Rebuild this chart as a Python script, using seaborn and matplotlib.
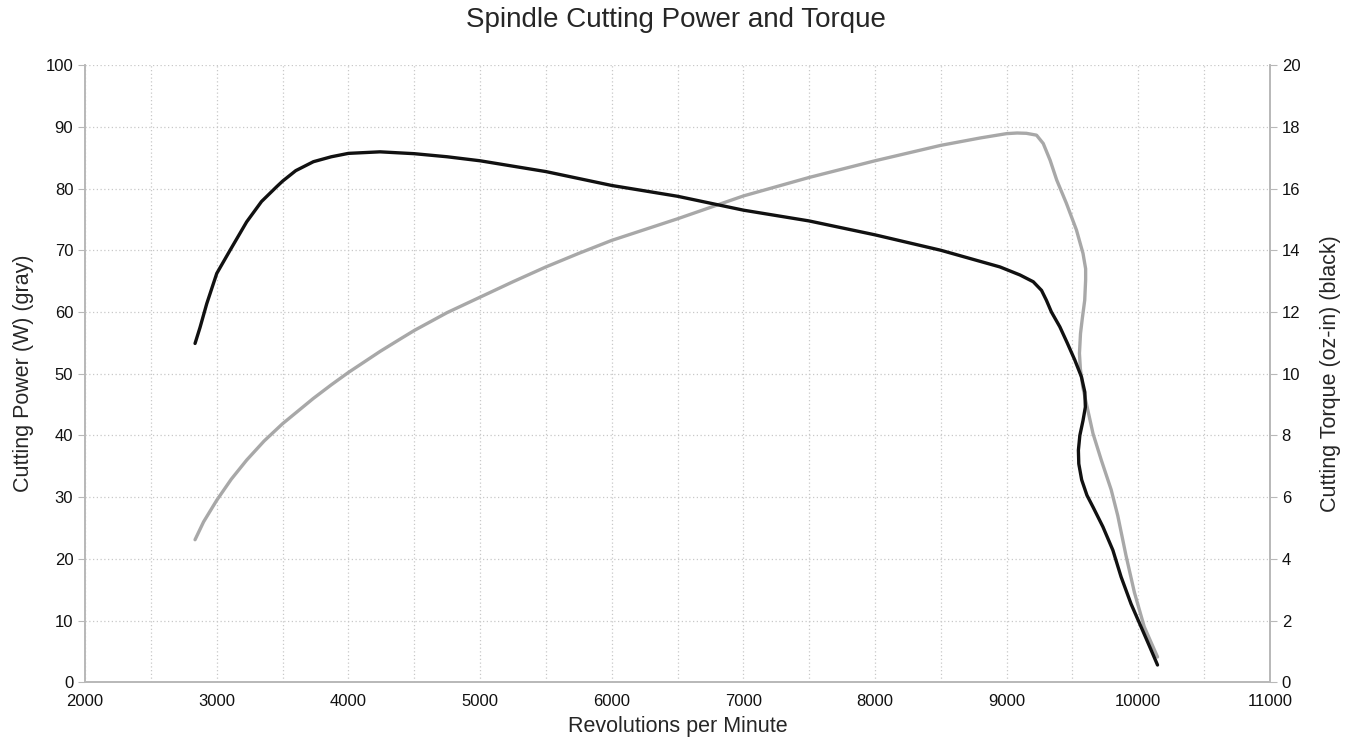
import numpy as np
import pandas as pd
import matplotlib
matplotlib.use("Agg")
import matplotlib.pyplot as plt
import seaborn as sns

# power curve (gray, left axis) - rpm / watts
power_rpm = [2835, 2900, 3000, 3110, 3227, 3360, 3500, 3620, 3734, 3870, 4000,
             4240, 4392, 4500, 4750, 5000, 5250, 5500, 5750, 6000, 6500, 7000,
             7500, 8000, 8500, 8800, 9000, 9080, 9150, 9227, 9278, 9330, 9380,
             9454, 9530, 9580, 9600, 9600, 9593, 9575, 9561, 9553, 9560, 9578,
             9600, 9656, 9719, 9794, 9844, 9907, 9970, 10045, 10146]
power_w = [23.1, 26.0, 29.5, 32.9, 36.0, 39.1, 41.9, 44.0, 46.0, 48.2, 50.2,
           53.6, 55.6, 57.0, 59.9, 62.4, 64.9, 67.3, 69.5, 71.6, 75.1, 78.8,
           81.8, 84.5, 87.0, 88.2, 88.9, 89.0, 88.95, 88.65, 87.3, 84.6, 81.4,
           77.6, 73.3, 69.5, 67.0, 65.2, 61.9, 59.0, 56.5, 53.3, 50.8, 47.9,
           45.7, 40.3, 36.0, 31.2, 27.0, 20.5, 14.6, 9.0, 4.1]

# torque curve (black, right axis) - rpm / oz-in
torque_rpm = [2835, 2873, 2924, 3000, 3101, 3227, 3340, 3455, 3500, 3600, 3734,
              3870, 4000, 4240, 4500, 4750, 5000, 5500, 6000, 6500, 7000, 7500,
              8000, 8500, 8949, 9101, 9202, 9265, 9302, 9340, 9404, 9460, 9518,
              9568, 9594, 9598, 9580, 9556, 9545, 9548, 9570, 9610, 9656, 9731,
              9807, 9869, 9945, 10033, 10090, 10146]
torque_oz = [10.98, 11.5, 12.27, 13.25, 14.0, 14.92, 15.58, 16.06, 16.24, 16.58, 16.87,
             17.03, 17.14, 17.19, 17.13, 17.03, 16.9, 16.55, 16.1, 15.75, 15.3, 14.95,
             14.5, 14.0, 13.46, 13.2, 12.98, 12.7, 12.38, 12.0, 11.52, 11.0, 10.44,
             9.9, 9.4, 8.92, 8.48, 8.0, 7.52, 7.08, 6.56, 6.06, 5.68, 5.04,
             4.28, 3.42, 2.54, 1.68, 1.12, 0.56]

power = pd.DataFrame({"rpm": power_rpm, "watts": power_w})
torque = pd.DataFrame({"rpm": torque_rpm, "oz": torque_oz})

sns.set_style("white")
plt.rcParams["font.family"] = ["Liberation Sans", "DejaVu Sans"]

fig = plt.figure(figsize=(13.51, 7.40), dpi=100)
ax = fig.add_axes([0.063, 0.078, 0.877, 0.834])
ax2 = ax.twinx()

sns.lineplot(data=power, x="rpm", y="watts", sort=False, estimator=None,
             color="#a8a8a8", linewidth=2.4, ax=ax)
sns.lineplot(data=torque, x="rpm", y="oz", sort=False, estimator=None,
             color="#111111", linewidth=2.4, ax=ax2)

ax.set_xlim(2000, 11000)
ax.set_ylim(0, 100)
ax2.set_ylim(0, 20)
ax.set_xticks(range(2000, 11001, 1000))
ax.set_xticks(range(2500, 11000, 1000), minor=True)
ax.set_yticks(range(0, 101, 10))
ax2.set_yticks(range(0, 21, 2))

grid_kw = dict(color="#c8c8c8", linestyle=(0, (1, 2)), linewidth=0.9)
ax.grid(True, which="both", axis="x", **grid_kw)
ax.grid(True, which="major", axis="y", **grid_kw)
ax.set_axisbelow(True)

for a in (ax, ax2):
    for side in ("left", "right", "bottom"):
        a.spines[side].set_color("#b8b8b8")
        a.spines[side].set_linewidth(1.2)
    a.spines["top"].set_visible(False)
    a.tick_params(which="both", length=5, color="#b8b8b8", labelsize=12,
                  labelcolor="#111111")

ax.set_xlabel("Revolutions per Minute", fontsize=15.5, labelpad=5)
ax.set_ylabel("Cutting Power (W) (gray)", fontsize=15.5, labelpad=8)
ax2.set_ylabel("Cutting Torque (oz-in) (black)", fontsize=15.5, labelpad=14)
fig.suptitle("Spindle Cutting Power and Torque", fontsize=20, y=0.99)

fig.savefig("out.png", dpi=100)
